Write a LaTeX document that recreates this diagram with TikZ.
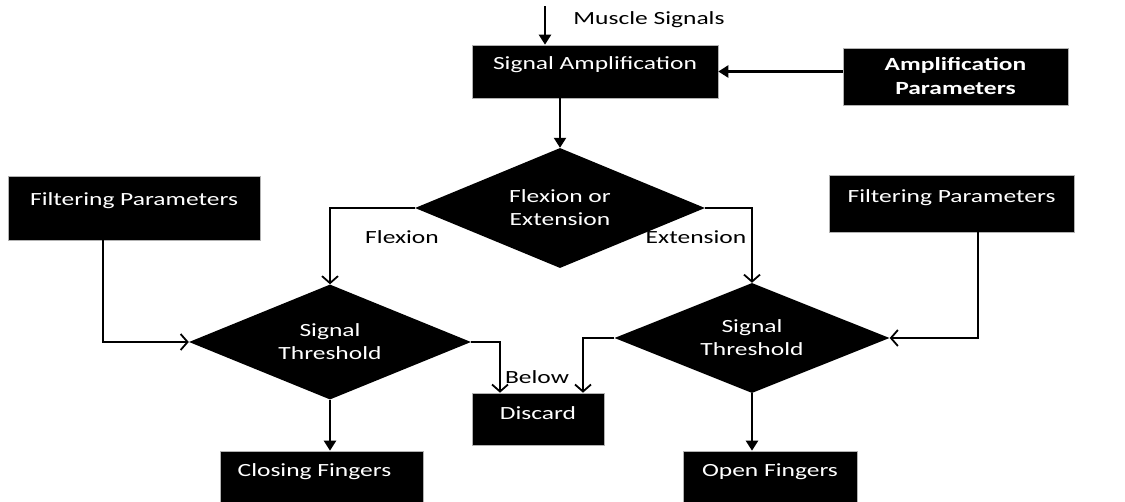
\documentclass[tikz,border=0pt]{standalone}
\usepackage{fontspec}
\setmainfont{Carlito}[FakeStretch=1.37]
\usetikzlibrary{shapes.geometric,arrows.meta}
\begin{document}
\begin{tikzpicture}[x=1pt,y=-1pt,
  every node/.style={font=\fontsize{18.6}{23}\selectfont},
  box/.style={draw=gray!60, line width=0.6pt, fill=black, text=white,
    inner xsep=0pt, inner ysep=0pt},
  dec/.style={diamond, fill=black, text=white, inner sep=0pt, align=center},
  lbl/.style={text=black, inner sep=0pt},
  flow/.style={line width=2.2pt},
  solidtip/.style={flow, -{Triangle[length=10pt,width=12pt]}},
  opentip/.style={flow, -{Straight Barb[length=7pt,width=16pt,line width=1.8pt]}}
]
\useasboundingbox (0,0) rectangle (1125,501);

% process boxes
\node[box, minimum width=246pt, text height=24pt, text depth=29pt] (sa) at (595,71.5) {Signal Amplification};
\node[box, minimum width=225pt, minimum height=57pt, align=center,
      font=\fontsize{18.6}{24}\selectfont\bfseries] (ap) at (955.5,76.5) {Amplification\\Parameters};
\node[box, minimum width=252pt, text height=29pt, text depth=35pt] (fl) at (134,208) {Filtering Parameters};
\node[box, minimum width=245pt, text height=27pt, text depth=30pt] (fr) at (951.5,203.5) {Filtering Parameters};
\node[box, minimum width=132pt, text height=26pt, text depth=26pt] (dc) at (538,419) {Discard};
\node[box, minimum width=203pt, text height=25pt, text depth=35pt] (cf) at (321.5,481) {Closing Fingers\hspace*{14pt}};
\node[box, minimum width=174pt, text height=25pt, text depth=35pt] (of) at (770,481) {Open Fingers};

% decisions
\node[dec, minimum width=290pt, minimum height=120pt, aspect=2.4] (fx) at (560,208) {Flexion or\\Extension};
\node[dec, minimum width=282pt, minimum height=115pt, aspect=2.4] (lt) at (330,342) {Signal\\Threshold};
\node[dec, minimum width=275pt, minimum height=110pt, aspect=2.4] (rt) at (752,338) {Signal\\Threshold};

% labels
\node[lbl] (ms) at (649,20) {Muscle Signals};
\node[lbl] (lf) at (402,237) {Flexion};
\node[lbl] (le) at (696,237) {Extension};
\node[lbl] (lb) at (537,377) {Below};

% connectors
\coordinate (msin) at (545,6);
\draw[solidtip] (msin) -- (msin |- sa.north);
\draw[solidtip] (ap.west |- sa.east) -- (sa.east);
\draw[solidtip] (sa.south -| fx.north) -- (fx.north);
\draw[opentip] (fx.west) -| (lt.north);
\draw[opentip] (fx.east) -| (rt.north);
\draw[opentip] ([xshift=-31pt]fl.south) |- (lt.west);
\draw[opentip] ([xshift=26.5pt]fr.south) |- (rt.east);
\draw[opentip] (lt.east) -| ([xshift=-38pt]dc.north);
\draw[opentip] (rt.west) -| ([xshift=45pt]dc.north);
\draw[solidtip] (lt.south) -- (lt.south |- cf.north);
\draw[solidtip] (rt.south) -- (rt.south |- of.north);
\end{tikzpicture}
\end{document}
